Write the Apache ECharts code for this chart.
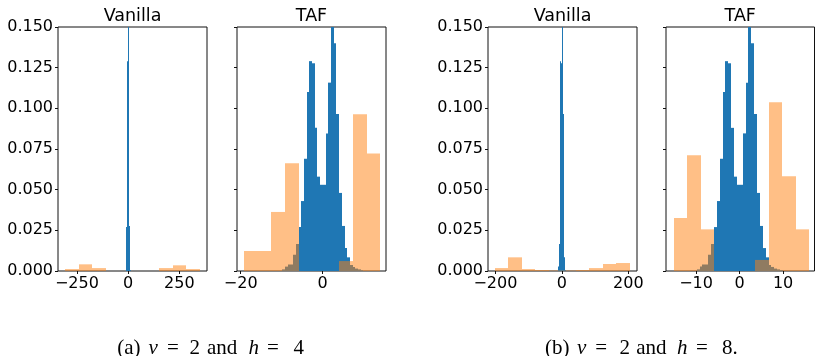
<!DOCTYPE html>
<html><head><meta charset="utf-8">
<script src="https://cdn.jsdelivr.net/npm/echarts@6/dist/echarts.min.js"></script>
<style>html,body{margin:0;padding:0;background:#fff}#c{width:815px;height:356px}</style>
</head><body><div id="c"></div>
<script>
// ---------- DATA ----------
const panelTitles = ['Vanilla', 'TAF', 'Vanilla', 'TAF'];

// blue histogram (same distribution drawn in every panel)
const blueEdges = [-9.85, -9.19, -8.53, -7.87, -7.21, -6.55, -5.89, -5.23, -4.57, -3.91, -3.25,
  -2.59, -1.93, -1.27, -0.61, 0.05, 0.71, 1.37, 2.03, 2.69, 3.35, 4.01, 4.67, 5.33, 5.99, 6.65,
  7.31, 7.97, 8.63, 9.29, 9.95];
const blueDensity = [0.001, 0.0027, 0.004, 0.004, 0.010, 0.0166, 0.027, 0.043, 0.069, 0.110,
  0.129, 0.1277, 0.088, 0.058, 0.053, 0.053, 0.0846, 0.1158, 0.160, 0.140, 0.0965, 0.048,
  0.0277, 0.0141, 0.0084, 0.0037, 0.0025, 0.0015, 0.001, 0.0005];

// orange histograms
const orangeEdgesA_Vanilla = [-307, -241.3, -175.6, -109.9, -44.2, 21.5, 87.2, 152.9, 218.6, 284.3, 350];
const orangeDensityA_Vanilla = [0.0012, 0.0041, 0.0018, 0, 0, 0, 0, 0.0018, 0.0035, 0.0012];
const orangeEdgesA_TAF = [-19.2, -15.87, -12.55, -9.22, -5.90, -2.57, 0.76, 4.08, 7.41, 10.73, 14.06];
const orangeDensityA_TAF = [0.0123, 0.0123, 0.0363, 0.0662, 0, 0, 0, 0.0061, 0.0963, 0.0723];
const orangeEdgesB_Vanilla = [-202, -161.4, -120.8, -80.2, -39.6, 1.0, 41.6, 82.2, 122.8, 163.4, 204];
const orangeDensityB_Vanilla = [0.0018, 0.0084, 0.0012, 0.0006, 0.0003, 0.0003, 0.0006, 0.0018, 0.0043, 0.0049];
const orangeEdgesB_TAF = [-15.17, -12.05, -8.93, -5.81, -2.69, 0.42, 3.54, 6.66, 9.78, 12.90, 16.02];
const orangeDensityB_TAF = [0.0326, 0.0711, 0.0256, 0, 0, 0, 0.0068, 0.1037, 0.0582, 0.0256];

// axis ranges and ticks
const xRanges = [[-342, 385], [-20.9, 15.44], [-222.3, 225.9], [-16.92, 17.22]];
const xTicks = [[-250, 0, 250], [-20, 0], [-200, 0, 200], [-10, 0, 10]];
const yRange = [0, 0.15];
const yInterval = 0.025;

// captions
const captionA = ['(a)', ' ν', ' =', ' 2', ' and', ' h', ' =', ' 4'];
const captionB = ['(b)', ' ν', ' =', ' 2', ' and', ' h', ' =', ' 8.'];
const captionItalic = [false, true, false, false, false, true, false, false];

// ---------- LAYOUT / STYLE ----------
const grids = [
  {left: 58, top: 27, width: 149, height: 244},
  {left: 237, top: 27, width: 149, height: 244},
  {left: 488, top: 27, width: 149, height: 244},
  {left: 666, top: 27, width: 148.5, height: 244}
];
const captionAWidths = [26, 18.4, 22.6, 17.4, 41.6, 18.4, 26.6, null];
const captionBWidths = [26.7, 18.3, 24.3, 16.7, 40.7, 19, 26, null];
const BLUE = '#1f77b4';
const ORANGE = 'rgba(255,127,14,0.5)';
const FONT = 'DejaVu Sans';

function toBins(edges, dens) {
  return dens.map((d, i) => [edges[i], edges[i + 1], d]);
}
const orangeSets = [
  toBins(orangeEdgesA_Vanilla, orangeDensityA_Vanilla),
  toBins(orangeEdgesA_TAF, orangeDensityA_TAF),
  toBins(orangeEdgesB_Vanilla, orangeDensityB_Vanilla),
  toBins(orangeEdgesB_TAF, orangeDensityB_TAF)
];
const blueBins = toBins(blueEdges, blueDensity);

function histRender(color) {
  return function (params, api) {
    const h = api.value(2);
    if (!(h > 0)) return null;
    const p0 = api.coord([api.value(0), 0]);
    const p1 = api.coord([api.value(1), h]);
    const cs = params.coordSys;
    let l = p0[0], r = p1[0];
    if (r - l < 1) { const c = Math.floor((l + r) / 2); l = c; r = c + 1; }
    else { l = Math.round(l); r = Math.round(r); }
    const top = Math.max(p1[1], cs.y);
    const bottom = p0[1];
    return {type: 'rect', shape: {x: l, y: top, width: r - l, height: bottom - top},
      style: {fill: color}};
  };
}

const minus = v => String(v).replace('-', '\u2212');

const option = {
  animation: false,
  backgroundColor: '#fff',
  grid: grids.map(g => Object.assign({}, g, {show: true, borderColor: '#111', borderWidth: 1,
    backgroundColor: 'transparent', containLabel: false, outerBoundsMode: 'none'})),
  xAxis: grids.map((g, i) => ({
    type: 'value', gridIndex: i, min: xRanges[i][0], max: xRanges[i][1], position: 'bottom',
    axisLine: {show: false, onZero: false}, splitLine: {show: false},
    axisTick: {show: true, inside: false, length: 3, lineStyle: {color: '#111', width: 1}, customValues: xTicks[i]},
    axisLabel: {show: true, margin: 5, fontSize: 16, fontFamily: FONT, color: '#000',
      customValues: xTicks[i], formatter: minus, showMinLabel: true, showMaxLabel: true}
  })),
  yAxis: grids.map((g, i) => ({
    type: 'value', gridIndex: i, min: yRange[0], max: yRange[1], interval: yInterval, position: 'left',
    axisLine: {show: false, onZero: false}, splitLine: {show: false},
    axisTick: {show: true, inside: false, length: 3, lineStyle: {color: '#111', width: 1}},
    axisLabel: {show: i % 2 === 0, margin: 5, fontSize: 16, fontFamily: FONT, color: '#000',
      formatter: v => v.toFixed(3)}
  })),
  series: [],
  graphic: []
};

for (let i = 0; i < 4; i++) {
  option.series.push({type: 'custom', xAxisIndex: i, yAxisIndex: i, z: 2,
    renderItem: histRender(BLUE), data: blueBins, encode: {x: [0, 1], y: 2}, silent: true});
  option.series.push({type: 'custom', xAxisIndex: i, yAxisIndex: i, z: 3,
    renderItem: histRender(ORANGE), data: orangeSets[i], encode: {x: [0, 1], y: 2}, silent: true});
  const g = grids[i];
  option.graphic.push({type: 'text', x: g.left + g.width / 2, y: 16.5,
    style: {text: panelTitles[i], fontSize: 17.5, fontFamily: FONT, fill: '#000',
      textAlign: 'center', textVerticalAlign: 'middle'}});
}

function caption(pieces, widths, x) {
  const rich = {};
  let txt = '';
  pieces.forEach((p, k) => {
    const st = {fontSize: 21, fontFamily: 'Liberation Serif', color: '#000',
      fontStyle: captionItalic[k] ? 'italic' : 'normal', align: 'left'};
    if (widths[k] != null) st.width = widths[k];
    rich['s' + k] = st;
    txt += '{s' + k + '|' + p + '}';
  });
  return {type: 'text', x: x, y: 348,
    style: {text: txt, rich: rich, textAlign: 'left', textVerticalAlign: 'middle', fill: '#000'}};
}
option.graphic.push(caption(captionA, captionAWidths, 117.3));
option.graphic.push(caption(captionB, captionBWidths, 545));

const chart = echarts.init(document.getElementById('c'), null, {renderer: 'canvas'});
chart.setOption(option);
</script>
</body></html>
